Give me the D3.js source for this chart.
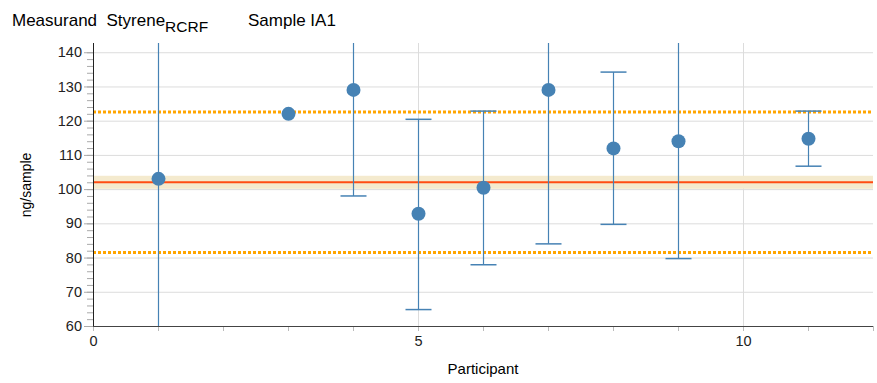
<!DOCTYPE html>
<html>
<head>
<meta charset="utf-8">
<script src="https://d3js.org/d3.v7.min.js"></script>
<style>
  body { margin: 0; background: #fff; }
  text { font-family: "Liberation Sans", Arial, sans-serif; white-space: pre; }
  .grid line { stroke: #dcdcdc; }
  .grid .domain { display: none; }
</style>
</head>
<body>
<script>
// values
const participants = [1, 3, 4, 5, 6, 7, 8, 9, 11];
const results = [103, 122, 129, 92.8, 100.4, 129, 111.9, 114, 114.7];
const lowerErr = [45, null, 98, 64.8, 77.9, 84, 89.7, 79.7, 106.7];
const upperErr = [165, null, 160, 120.4, 122.8, 160, 134.2, 160, 122.8];
const assigned = 102;
const assignedBand = [100.1, 103.9];
const limits = [81.5, 122.5];
const xTicks = [0, 5, 10];
const yTicks = [60, 70, 80, 90, 100, 110, 120, 130, 140];

const width = 877, height = 383;
const svg = d3.select("body").append("svg")
  .attr("width", width).attr("height", height);

const x = d3.scaleLinear().domain([0, 12]).range([93, 873]);
const y = d3.scaleLinear().domain([60, 142.7]).range([326, 43]);

svg.append("defs").append("clipPath").attr("id", "plot")
  .append("rect").attr("x", 93).attr("y", 43).attr("width", 780).attr("height", 283);

// gridlines
svg.append("g").attr("class", "grid")
  .attr("transform", "translate(93,0)")
  .call(d3.axisLeft(y).tickValues(yTicks).tickSize(-780).tickFormat(""));
svg.append("g").attr("class", "grid")
  .attr("transform", "translate(0,326)")
  .call(d3.axisBottom(x).tickValues(xTicks).tickSize(-283).tickFormat(""));

const plot = svg.append("g").attr("clip-path", "url(#plot)");

// assigned value band and lines
plot.append("rect")
  .attr("x", 93).attr("width", 780)
  .attr("y", y(assignedBand[1]))
  .attr("height", y(assignedBand[0]) - y(assignedBand[1]))
  .attr("fill", "#f4eace");
plot.append("line")
  .attr("x1", 93).attr("x2", 873)
  .attr("y1", y(assigned)).attr("y2", y(assigned))
  .attr("stroke", "#ff4d14").attr("stroke-width", 2);
limits.forEach(function(l) {
  plot.append("line")
    .attr("x1", 93).attr("x2", 873)
    .attr("y1", y(l)).attr("y2", y(l))
    .attr("stroke", "#ffa500").attr("stroke-width", 3)
    .attr("stroke-dasharray", "3,2");
});

// error bars
participants.forEach(function(p, i) {
  if (lowerErr[i] == null) return;
  const cx = Math.round(x(p)) + 0.5;
  plot.append("line")
    .attr("x1", cx).attr("x2", cx)
    .attr("y1", y(lowerErr[i])).attr("y2", y(upperErr[i]))
    .attr("stroke", "steelblue").attr("stroke-width", 1.2);
  [lowerErr[i], upperErr[i]].forEach(function(v) {
    plot.append("line")
      .attr("x1", cx - 13).attr("x2", cx + 13)
      .attr("y1", y(v)).attr("y2", y(v))
      .attr("stroke", "steelblue").attr("stroke-width", 1.5);
  });
});

// points
plot.selectAll("circle").data(participants).enter().append("circle")
  .attr("cx", function(d) { return Math.round(x(d)) + 0.5; })
  .attr("cy", function(d, i) { return y(results[i]); })
  .attr("r", 7)
  .attr("fill", "#4682b4");

// y axis
const yAxis = svg.append("g").attr("transform", "translate(93,0)");
yAxis.call(d3.axisLeft(y).tickValues(d3.range(60, 142, 2)).tickSize(6).tickFormat(""));
yAxis.selectAll(".tick line").attr("stroke", "#aaa");
yAxis.select(".domain").remove();
const yMajor = svg.append("g").attr("transform", "translate(93,0)");
yMajor.call(d3.axisLeft(y).tickValues(yTicks).tickSize(9).tickPadding(2));
yMajor.select(".domain").remove();
yMajor.selectAll(".tick line").attr("stroke", "#aaa");
yMajor.selectAll("text").attr("font-size", 14.5).attr("fill", "#222");
svg.append("line")
  .attr("x1", 93.5).attr("x2", 93.5).attr("y1", 43).attr("y2", 326)
  .attr("stroke", "#222");

// x axis
const xAxis = svg.append("g").attr("transform", "translate(0,326)");
xAxis.call(d3.axisBottom(x).tickValues(d3.range(0, 13)).tickSize(5).tickFormat(""));
xAxis.select(".domain").remove();
xAxis.selectAll(".tick line").attr("stroke", "#bbb");
const xLab = svg.append("g").attr("transform", "translate(0,326)");
xLab.call(d3.axisBottom(x).tickValues(xTicks).tickSize(0).tickPadding(10));
xLab.select(".domain").remove();
xLab.selectAll("text").attr("font-size", 14.5).attr("fill", "#222");
svg.append("line")
  .attr("x1", 93).attr("x2", 873).attr("y1", 326.5).attr("y2", 326.5)
  .attr("stroke", "#444");

// labels
svg.append("text")
  .attr("x", 483).attr("y", 374)
  .attr("text-anchor", "middle").attr("font-size", 15)
  .text("Participant");
svg.append("text")
  .attr("transform", "translate(31,185) rotate(-90)")
  .attr("text-anchor", "middle").attr("font-size", 14)
  .text("ng/sample");

// title
const title = svg.append("text").attr("x", 12).attr("y", 26).attr("font-size", 17);
title.append("tspan").text("Measurand  Styrene");
title.append("tspan").attr("dy", 6).attr("font-size", 15.5).text("RCRF");
svg.append("text").attr("x", 248).attr("y", 26).attr("font-size", 17)
  .text("Sample IA1");
</script>
</body>
</html>
